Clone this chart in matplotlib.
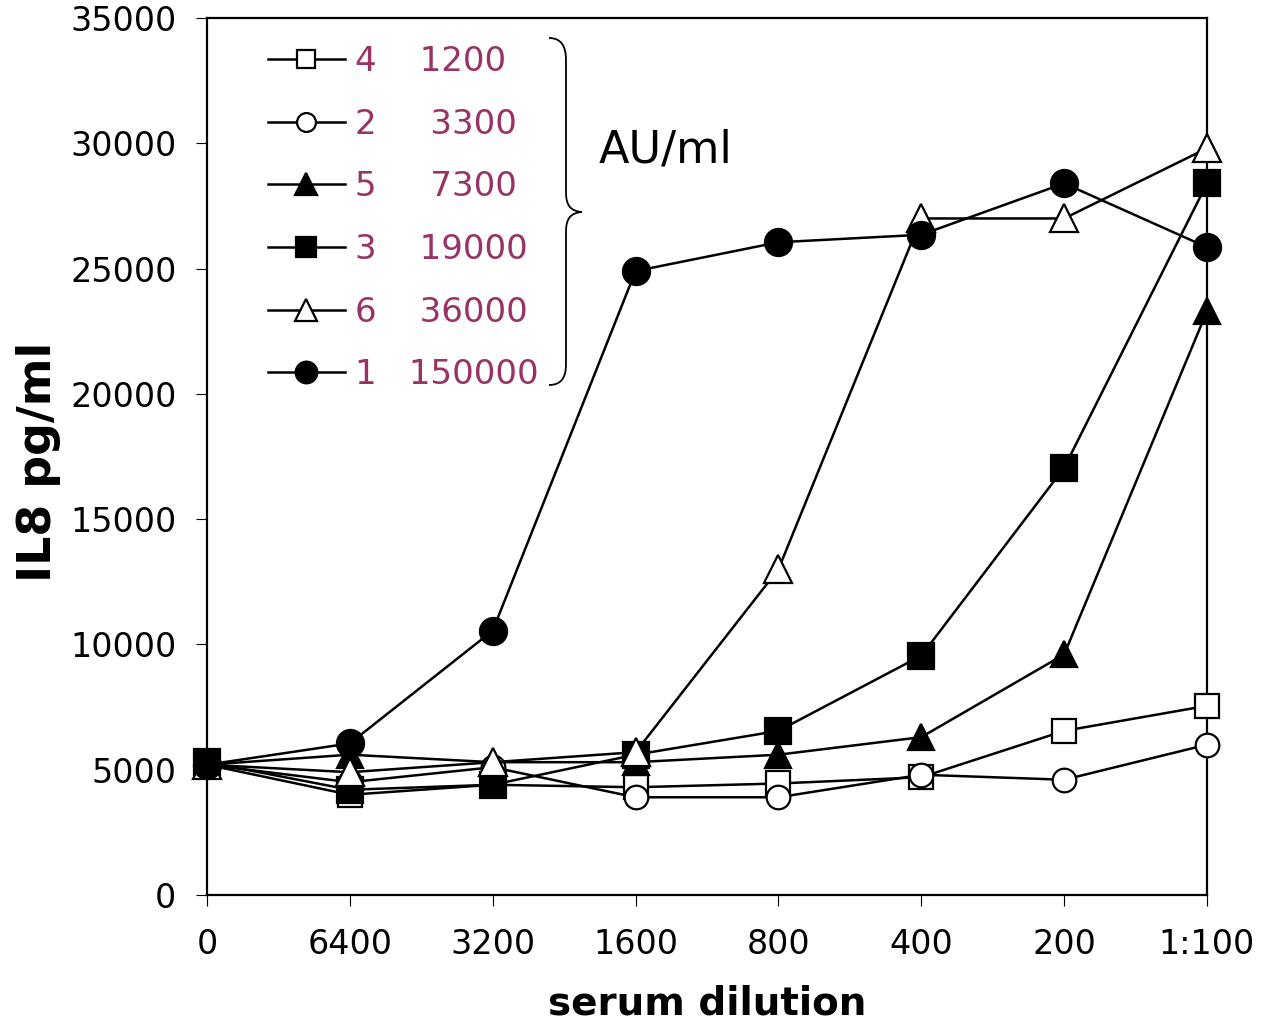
import numpy as np
import matplotlib.pyplot as plt
from matplotlib.path import Path
from matplotlib.patches import PathPatch

dilutions = ['0', '6400', '3200', '1600', '800', '400', '200', '1:100']

# IL8 pg/ml per serum, in legend order
s4 = [5200, 4000, 4400, 4300, 4450, 4700, 6550, 7550]
s2 = [5200, 4500, 5100, 3900, 3900, 4800, 4600, 6000]
s5 = [5200, 5600, 5300, 5300, 5600, 6300, 9600, 23300]
s3 = [5300, 4200, 4400, 5600, 6550, 9550, 17050, 28400]
s6 = [5200, 4900, 5300, 5700, 13000, 27000, 27000, 29800]
s1 = [5200, 6050, 10550, 24900, 26050, 26350, 28400, 25850]

labels = ['4    1200', '2     3300', '5     7300', '3    19000', '6    36000', '1   150000']

purple = '#993366'
plt.rcParams['font.family'] = 'DejaVu Sans'

fig = plt.figure(figsize=(12.68, 10.27), dpi=100)
ax = fig.add_axes([207 / 1268, 1 - 895 / 1027, 1000 / 1268, 877 / 1027])

x = np.arange(len(dilutions))
styles = [
    (s4, 's', 'white', 17),
    (s2, 'o', 'white', 17),
    (s5, '^', 'black', 19),
    (s3, 's', 'black', 18.5),
    (s6, '^', 'white', 20),
    (s1, 'o', 'black', 19.5),
]
handles = []
for i, (y, m, fc, ms) in enumerate(styles):
    h, = ax.plot(x, y, color='black', lw=1.8, marker=m, markersize=ms,
                 markerfacecolor=fc, markeredgecolor='black', markeredgewidth=1.6,
                 clip_on=False, zorder=3 + i)
    handles.append(h)

ax.set_xlim(0, 7)
ax.set_ylim(0, 35000)
ax.set_xticks(x)
ax.set_xticklabels(dilutions)
ax.set_yticks(np.arange(0, 35001, 5000))
for s in ax.spines.values():
    s.set_linewidth(1.6)
ax.tick_params(axis='x', direction='out', length=8, width=0.8, pad=16, labelsize=24)
ax.tick_params(axis='y', direction='out', length=8, width=0.8, pad=14, labelsize=24)

ax.set_xlabel('serum dilution', fontsize=28, fontweight='bold', labelpad=17)
ax.set_ylabel('IL8 pg/ml', fontsize=33, fontweight='bold')
ax.yaxis.set_label_coords(-0.146, 0.494)

leg = ax.legend(handles, labels, loc='upper left', bbox_to_anchor=(0.061, 0.969),
                frameon=False, fontsize=24.5, handlelength=2.25, handletextpad=0.3,
                labelspacing=0.87, borderpad=0, borderaxespad=0, markerscale=0.8)
for t in leg.get_texts():
    t.set_color(purple)

ax.text(0.392, 0.85, 'AU/ml', transform=ax.transAxes, fontsize=32,
        ha='left', va='center')

# curly brace next to the legend, drawn in pixel coordinates of the figure
pts = [(549, 38), (561, 38), (566, 46), (566, 60),
       (566, 192), (566, 205), (570, 211), (582, 212),
       (570, 213), (566, 219), (566, 232), (566, 364),
       (566, 378), (561, 385), (549, 385)]
codes = [Path.MOVETO, Path.CURVE4, Path.CURVE4, Path.CURVE4,
         Path.LINETO, Path.CURVE4, Path.CURVE4, Path.CURVE4,
         Path.CURVE4, Path.CURVE4, Path.CURVE4, Path.LINETO,
         Path.CURVE4, Path.CURVE4, Path.CURVE4]
verts = [(px / 100, (1027 - py) / 100) for px, py in pts]
brace = PathPatch(Path(verts, codes), facecolor='none', edgecolor='black', lw=1.3,
                  transform=fig.dpi_scale_trans)
fig.patches.append(brace)

fig.savefig('out.png', dpi=100)
